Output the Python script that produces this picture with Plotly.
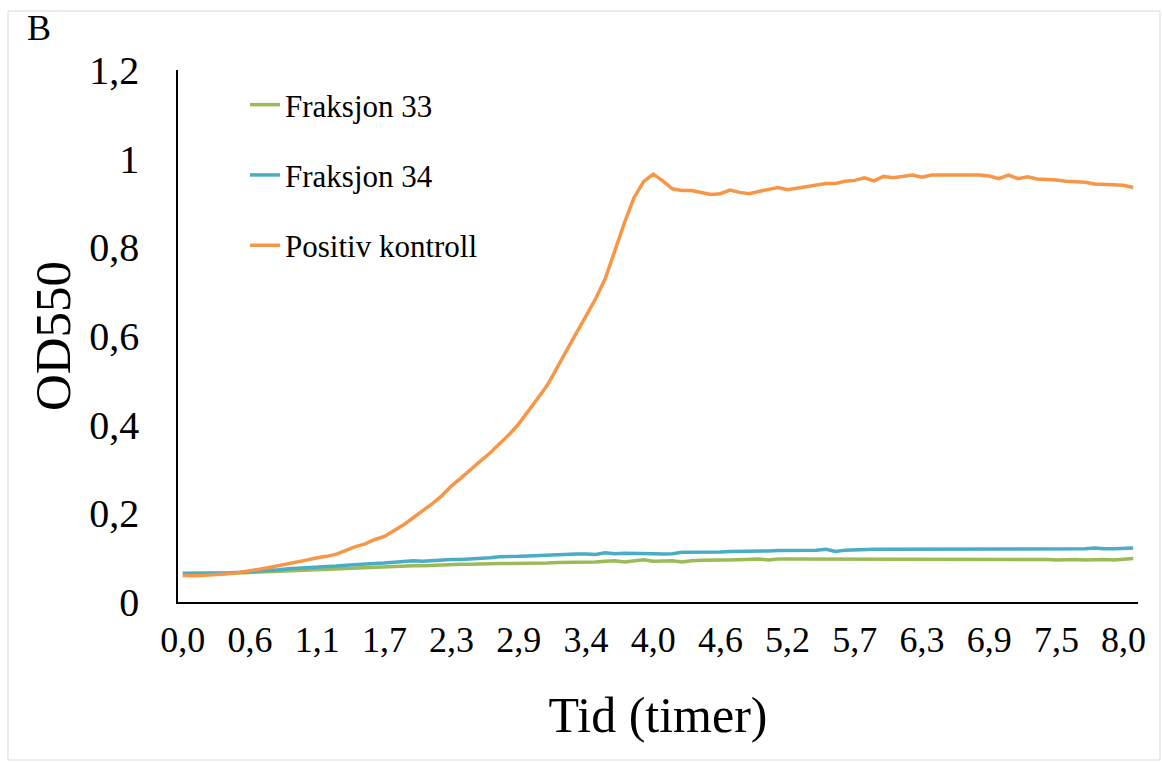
import plotly.graph_objects as go

# Sampling times (minutes after start)
minutes = [
    0, 5, 10, 15, 20, 25, 30, 35,
    40, 45, 50, 54, 59, 64, 68,
    73, 78, 83, 87, 92, 97, 102,
    107, 112, 117, 122, 127, 132, 137,
    142, 147, 152, 157, 162, 167, 172,
    177, 182, 187, 191, 196, 200, 205,
    210, 215, 220, 225, 230, 235, 240,
    245, 250, 255, 260, 265, 270, 275,
    280, 285, 290, 295, 300, 305, 310,
    315, 320, 324, 329, 334, 338, 343,
    348, 353, 358, 363, 368, 373, 378,
    383, 388, 393, 397, 402, 407, 412,
    417, 422, 428, 433, 438, 443, 448,
    453, 457, 462, 466, 471, 475, 480,
    485,
]

fraksjon_33 = [
    0.063, 0.063, 0.063, 0.064, 0.064, 0.065, 0.066, 0.066, 0.067, 0.068,
    0.069, 0.070, 0.071, 0.072, 0.073, 0.074, 0.075, 0.075, 0.076, 0.077,
    0.078, 0.079, 0.080, 0.081, 0.082, 0.082, 0.083, 0.084, 0.084, 0.085,
    0.085, 0.086, 0.086, 0.087, 0.087, 0.087, 0.088, 0.088, 0.088, 0.089,
    0.089, 0.090, 0.090, 0.090, 0.092, 0.093, 0.090, 0.093, 0.095, 0.092,
    0.093, 0.093, 0.090, 0.093, 0.094, 0.095, 0.095, 0.095, 0.096, 0.096,
    0.097, 0.095, 0.097, 0.097, 0.097, 0.097, 0.097, 0.097, 0.097, 0.097,
    0.097, 0.096, 0.096, 0.096, 0.096, 0.096, 0.096, 0.096, 0.096, 0.097,
    0.097, 0.096, 0.096, 0.097, 0.096, 0.096, 0.097, 0.096, 0.096, 0.096,
    0.096, 0.095, 0.096, 0.096, 0.095, 0.096, 0.096, 0.095, 0.096, 0.098,
]

fraksjon_34 = [
    0.065, 0.065, 0.065, 0.065, 0.065, 0.066, 0.067, 0.068, 0.070, 0.072,
    0.073, 0.075, 0.076, 0.078, 0.079, 0.080, 0.081, 0.083, 0.085, 0.086,
    0.087, 0.088, 0.090, 0.091, 0.093, 0.092, 0.094, 0.095, 0.096, 0.096,
    0.097, 0.099, 0.100, 0.102, 0.102, 0.103, 0.104, 0.105, 0.106, 0.107,
    0.107, 0.108, 0.108, 0.107, 0.111, 0.109, 0.110, 0.110, 0.110, 0.109,
    0.108, 0.109, 0.112, 0.112, 0.112, 0.113, 0.113, 0.114, 0.114, 0.115,
    0.115, 0.115, 0.116, 0.116, 0.116, 0.117, 0.117, 0.119, 0.114, 0.117,
    0.118, 0.119, 0.119, 0.119, 0.119, 0.119, 0.119, 0.119, 0.119, 0.120,
    0.120, 0.120, 0.120, 0.120, 0.120, 0.120, 0.120, 0.120, 0.120, 0.120,
    0.120, 0.120, 0.120, 0.120, 0.120, 0.122, 0.120, 0.120, 0.121, 0.122,
]

positiv_kontroll = [
    0.060, 0.059, 0.060, 0.061, 0.062, 0.064, 0.067, 0.070, 0.074, 0.078,
    0.082, 0.086, 0.090, 0.095, 0.100, 0.103, 0.108, 0.117, 0.125, 0.131,
    0.141, 0.148, 0.160, 0.174, 0.190, 0.205, 0.222, 0.240, 0.262, 0.280,
    0.300, 0.318, 0.336, 0.356, 0.378, 0.402, 0.430, 0.460, 0.490, 0.530,
    0.570, 0.607, 0.645, 0.684, 0.729, 0.795, 0.855, 0.912, 0.948, 0.965,
    0.950, 0.932, 0.928, 0.928, 0.924, 0.919, 0.921, 0.929, 0.924, 0.921,
    0.926, 0.931, 0.935, 0.930, 0.934, 0.938, 0.942, 0.944, 0.944, 0.949,
    0.951, 0.957, 0.950, 0.960, 0.957, 0.961, 0.963, 0.958, 0.963, 0.963,
    0.963, 0.963, 0.963, 0.963, 0.961, 0.955, 0.963, 0.955, 0.959, 0.954,
    0.953, 0.952, 0.949, 0.948, 0.947, 0.943, 0.942, 0.942, 0.940, 0.935,
]

tick_labels = ["0,0", "0,6", "1,1", "1,7", "2,3", "2,9", "3,4", "4,0",
               "4,6", "5,2", "5,7", "6,3", "6,9", "7,5", "8,0"]
y_tick_values = [0, 0.2, 0.4, 0.6, 0.8, 1.0, 1.2]
y_tick_labels = ["0", "0,2", "0,4", "0,6", "0,8", "1", "1,2"]

series_names = ["Fraksjon 33", "Fraksjon 34", "Positiv kontroll"]
series_colors = ["#9BBB59", "#4BACC6", "#F79646"]

label_every = 7
hours = [f"{m / 60:.3f}" for m in minutes]
tick_positions = hours[::label_every][:len(tick_labels)]

FONT = "Liberation Serif, Times New Roman, serif"

fig = go.Figure()
for i, (name, values, color) in enumerate(
        zip(series_names, [fraksjon_33, fraksjon_34, positiv_kontroll], series_colors)):
    fig.add_trace(go.Scatter(
        x=hours, y=values, mode="lines", name=name,
        legendgroup=f"g{i}",
        line=dict(color=color, width=3.5),
    ))

# plot-area geometry in pixels
W, H = 1162, 762
L, R, T, B = 178, 24, 70, 160
pw, ph = W - L - R, H - T - B


def px(x):
    return (x - L) / pw


def py(y):
    return (H - B - y) / ph


fig.update_layout(
    width=W, height=H,
    margin=dict(l=L, r=R, t=T, b=B, pad=0),
    paper_bgcolor="white", plot_bgcolor="white",
    font=dict(family=FONT, color="black"),
    showlegend=True,
    legend=dict(
        x=px(245), y=py(78), xanchor="left", yanchor="top",
        font=dict(family=FONT, size=31, color="black"),
        bgcolor="rgba(0,0,0,0)", tracegroupgap=27,
        traceorder="grouped",
    ),
    xaxis=dict(
        type="category", categoryorder="array", categoryarray=hours,
        tickmode="array", tickvals=tick_positions, ticktext=tick_labels,
        showline=True, linecolor="black", linewidth=1.5,
        showgrid=False, zeroline=False, ticks="",
        tickfont=dict(family=FONT, size=36),
        title=dict(text="Tid (timer)", font=dict(family=FONT, size=50), standoff=38),
        range=[-0.5, len(hours) - 0.5],
        ticklabelstandoff=5,
    ),
    yaxis=dict(
        range=[0, 1.2],
        tickmode="array", tickvals=y_tick_values, ticktext=y_tick_labels,
        showline=True, linecolor="black", linewidth=1.5,
        showgrid=False, zeroline=False, ticks="",
        tickfont=dict(family=FONT, size=40),
        title=dict(text="OD550", font=dict(family=FONT, size=51), standoff=2),
        ticklabelstandoff=29,
    ),
    shapes=[dict(
        type="rect", xref="paper", yref="paper",
        x0=px(8), x1=px(1160), y0=py(11), y1=py(760),
        line=dict(color="#D9D9D9", width=1), layer="below",
    )],
    annotations=[dict(
        text="B", xref="paper", yref="paper",
        x=px(25), y=py(28), xanchor="left", yanchor="middle",
        showarrow=False, font=dict(family=FONT, size=36),
    )],
)

fig.write_html("out.html")
